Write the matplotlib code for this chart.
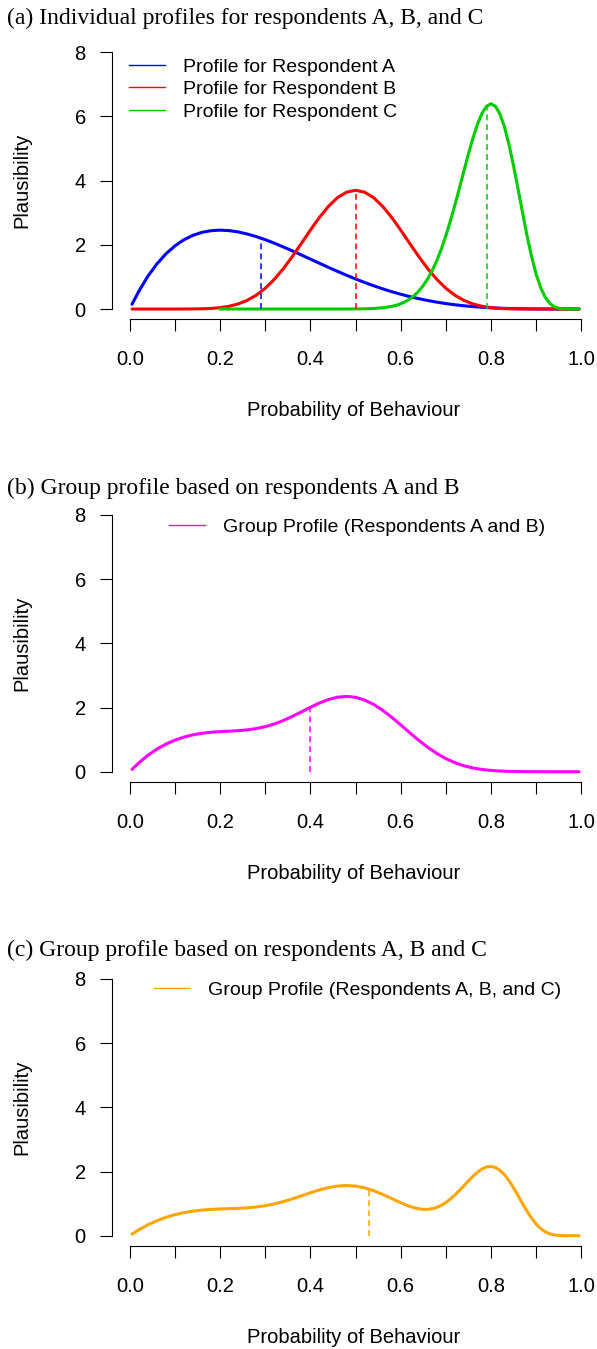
import matplotlib
matplotlib.use("Agg")
import matplotlib.pyplot as plt
from matplotlib.lines import Line2D

plt.rcParams['font.family'] = ['Liberation Sans', 'DejaVu Sans']

# ---------------- data ----------------
x_grid = [0.005, 0.02, 0.04, 0.06, 0.08, 0.10, 0.12, 0.14, 0.16, 0.18,
          0.20, 0.22, 0.24, 0.26, 0.28, 0.30, 0.32, 0.34, 0.36, 0.38,
          0.40, 0.42, 0.44, 0.46, 0.48, 0.50, 0.52, 0.54, 0.56, 0.58,
          0.60, 0.62, 0.64, 0.66, 0.68, 0.70, 0.72, 0.74, 0.76, 0.78,
          0.80, 0.82, 0.84, 0.86, 0.88, 0.90, 0.92, 0.94, 0.96, 0.98, 0.995]

profile_a = [0.147, 0.553, 1.019, 1.405, 1.719, 1.968, 2.159, 2.297, 2.390, 2.441,
             2.458, 2.443, 2.402, 2.339, 2.257, 2.161, 2.053, 1.935, 1.812, 1.684,
             1.555, 1.426, 1.298, 1.173, 1.053, 0.938, 0.828, 0.725, 0.630, 0.541,
             0.461, 0.388, 0.323, 0.265, 0.214, 0.170, 0.133, 0.101, 0.076, 0.055,
             0.038, 0.026, 0.017, 0.010, 0.006, 0.003, 0.001, 0.0, 0.0, 0.0, 0.0]

profile_b = [0.0, 0.0, 0.0, 0.0, 0.0, 0.0001, 0.001, 0.003, 0.008, 0.019,
             0.043, 0.086, 0.158, 0.270, 0.430, 0.647, 0.924, 1.256, 1.635, 2.044,
             2.460, 2.855, 3.200, 3.470, 3.641, 3.700, 3.641, 3.470, 3.200, 2.855,
             2.460, 2.044, 1.635, 1.256, 0.924, 0.647, 0.430, 0.270, 0.158, 0.086,
             0.043, 0.019, 0.008, 0.003, 0.001, 0.0001, 0.0, 0.0, 0.0, 0.0, 0.0]

group_ab = [0.074, 0.277, 0.510, 0.703, 0.860, 0.984, 1.080, 1.150, 1.199, 1.230,
            1.250, 1.264, 1.280, 1.304, 1.344, 1.404, 1.488, 1.596, 1.724, 1.864,
            2.008, 2.141, 2.249, 2.322, 2.347, 2.319, 2.235, 2.098, 1.915, 1.698,
            1.461, 1.216, 0.979, 0.761, 0.569, 0.409, 0.282, 0.185, 0.117, 0.070,
            0.041, 0.022, 0.012, 0.006, 0.003, 0.001, 0.001, 0.0, 0.0, 0.0, 0.0]

# finer grid where the sharp peak near 0.8 lives
x_fine = [0.005, 0.02, 0.04, 0.06, 0.08, 0.10, 0.12, 0.14, 0.16, 0.18,
          0.20, 0.22, 0.24, 0.26, 0.28, 0.30, 0.32, 0.34, 0.36, 0.38,
          0.40, 0.42, 0.44, 0.46, 0.48, 0.50, 0.52, 0.54, 0.56,
          0.57, 0.58, 0.59, 0.60, 0.61, 0.62, 0.63, 0.64, 0.65, 0.66,
          0.67, 0.68, 0.69, 0.70, 0.71, 0.72, 0.73, 0.74, 0.75, 0.76,
          0.77, 0.78, 0.79, 0.80, 0.81, 0.82, 0.83, 0.84, 0.85, 0.86,
          0.87, 0.88, 0.89, 0.90, 0.91, 0.92, 0.93, 0.94, 0.95, 0.96,
          0.97, 0.98, 0.995]

nan = float('nan')
profile_c = [nan, nan, nan, nan, nan, nan, nan, nan, nan, nan,
             0.0, 0.0, 0.0, 0.0, 0.0, 0.0, 0.0, 0.0, 0.0, 0.0,
             0.0, 0.0, 0.0001, 0.0004, 0.001, 0.003, 0.007, 0.017, 0.039,
             0.057, 0.082, 0.117, 0.165, 0.228, 0.312, 0.420, 0.558, 0.732, 0.946,
             1.206, 1.514, 1.874, 2.285, 2.743, 3.241, 3.767, 4.305, 4.833, 5.327,
             5.758, 6.098, 6.318, 6.395, 6.314, 6.067, 5.660, 5.113, 4.456, 3.730,
             2.985, 2.268, 1.623, 1.083, 0.664, 0.367, 0.178, 0.073, 0.024, 0.006,
             0.001, 0.0, 0.0]

group_abc = [0.049, 0.184, 0.340, 0.468, 0.573, 0.656, 0.720, 0.767, 0.799, 0.820,
             0.834, 0.843, 0.853, 0.870, 0.896, 0.936, 0.992, 1.064, 1.149, 1.243,
             1.338, 1.427, 1.499, 1.548, 1.565, 1.547, 1.492, 1.404, 1.290,
             1.226, 1.159, 1.093, 1.029, 0.968, 0.915, 0.871, 0.839, 0.822, 0.822,
             0.842, 0.884, 0.948, 1.034, 1.142, 1.268, 1.409, 1.559, 1.710, 1.854,
             1.980, 2.080, 2.142, 2.159, 2.125, 2.037, 1.898, 1.712, 1.491, 1.247,
             0.998, 0.758, 0.542, 0.362, 0.222, 0.123, 0.060, 0.025, 0.008, 0.002,
             0.0003, 0.0, 0.0]

# mean markers (x position, height of the dashed line)
mean_x_abc = [0.29, 0.50, 0.79]
mean_h_abc = [2.21, 3.70, 6.30]
mean_x_group_ab = [0.40]
mean_h_group_ab = [2.01]
mean_x_group_abc = [0.53]
mean_h_group_abc = [1.45]

x_major_ticks = [0.0, 0.2, 0.4, 0.6, 0.8, 1.0]
x_tick_labels = ["0.0", "0.2", "0.4", "0.6", "0.8", "1.0"]
x_minor_ticks = [0.1, 0.3, 0.5, 0.7, 0.9]
y_ticks = [0, 2, 4, 6, 8]
y_tick_labels = ["0", "2", "4", "6", "8"]

titles = ["(a) Individual profiles for respondents A, B, and C",
          "(b) Group profile based on respondents A and B",
          "(c) Group profile based on respondents A, B and C"]
legend_a = ["Profile for Respondent A", "Profile for Respondent B", "Profile for Respondent C"]
legend_b = ["Group Profile (Respondents A and B)"]
legend_c = ["Group Profile (Respondents A, B, and C)"]
xlabel = "Probability of Behaviour"
ylabel = "Plausibility"

# ---------------- layout ----------------
W, H = 597, 1349
fig = plt.figure(figsize=(W / 100, H / 100), dpi=100)

def px_axes(top, bottom, left=111.7, right=599.4):
    return fig.add_axes([left / W, 1 - bottom / H, (right - left) / W, (bottom - top) / H])

def fx(px):
    return px / W

def fy(py):
    return 1 - py / H

panels = [(42.0, 319.3), (504.7, 782.0), (968.7, 1246.0)]
title_y = [18, 488, 950]

def style(ax):
    ax.set_xlim(-0.04, 1.04)
    ax.set_ylim(-0.32, 8.32)
    for s in ["top", "right"]:
        ax.spines[s].set_visible(False)
    for s in ["left", "bottom"]:
        ax.spines[s].set_linewidth(0.8)
        ax.spines[s].set_color("black")
    ax.spines["left"].set_bounds(0, 8)
    ax.spines["bottom"].set_bounds(0, 1)
    ax.set_xticks(x_major_ticks)
    ax.set_xticklabels(x_tick_labels)
    ax.set_xticks(x_minor_ticks, minor=True)
    ax.set_yticks(y_ticks)
    ax.set_yticklabels(y_tick_labels)
    ax.tick_params(axis="both", which="both", direction="out", length=8.6,
                   width=0.8, color="black", labelsize=14.5)
    ax.tick_params(axis="x", pad=13.4)
    ax.tick_params(axis="y", pad=10)
    ax.patch.set_visible(False)

axes = [px_axes(t, b) for t, b in panels]
for ax, (t, b), ty, title in zip(axes, panels, title_y, titles):
    style(ax)
    fig.text(fx(7), fy(ty), title, family="Liberation Serif", fontsize=17,
             ha="left", va="center")
    y0 = b - 10.3
    y8 = t + 10.3
    fig.text(fx(22), fy((y0 + y8) / 2), ylabel, rotation=90, fontsize=14.5,
             ha="center", va="center")
    fig.text(fx(353.5), fy(b + 91.5), xlabel, fontsize=14.5, ha="center", va="center")

dash = (0, (3.9, 2.6))

# panel (a)
ax = axes[0]
colors_abc = ["#0000FF", "#FF0000", "#00CD00"]
ax.plot(x_grid, profile_a, color=colors_abc[0], lw=2.2, solid_capstyle="round", solid_joinstyle="round")
ax.plot(x_grid, profile_b, color=colors_abc[1], lw=2.2, solid_capstyle="round", solid_joinstyle="round")
ax.plot(x_fine, profile_c, color=colors_abc[2], lw=2.2, solid_capstyle="round", solid_joinstyle="round")
ax.vlines(mean_x_abc, 0, mean_h_abc, colors=colors_abc, lw=1.1, linestyles=dash)
handles = [Line2D([], [], color=c, lw=1.0) for c in colors_abc]
ax.legend(handles, legend_a, loc="upper left", bbox_to_anchor=(fx(129), fy(58.0)),
          bbox_transform=fig.transFigure, frameon=False, fontsize=14,
          handlelength=1.85, handletextpad=0.93, labelspacing=0.26,
          borderpad=0, borderaxespad=0)

# panel (b)
ax = axes[1]
ax.plot(x_grid, group_ab, color="#FF00FF", lw=2.2, solid_capstyle="round", solid_joinstyle="round")
ax.vlines(mean_x_group_ab, 0, mean_h_group_ab, colors="#FF00FF", lw=1.1, linestyles=dash)
ax.legend([Line2D([], [], color="#FF00FF", lw=1.0)], legend_b, loc="upper center",
          bbox_to_anchor=(fx(357.5), fy(518.5)), bbox_transform=fig.transFigure,
          frameon=False, fontsize=14, handlelength=1.85, handletextpad=0.93,
          borderpad=0, borderaxespad=0)

# panel (c)
ax = axes[2]
ax.plot(x_fine, group_abc, color="#FFA500", lw=2.2, solid_capstyle="round", solid_joinstyle="round")
ax.vlines(mean_x_group_abc, 0, mean_h_group_abc, colors="#FFA500", lw=1.1, linestyles=dash)
ax.legend([Line2D([], [], color="#FFA500", lw=1.0)], legend_c, loc="upper center",
          bbox_to_anchor=(fx(358), fy(981)), bbox_transform=fig.transFigure,
          frameon=False, fontsize=14, handlelength=1.85, handletextpad=0.93,
          borderpad=0, borderaxespad=0)

fig.savefig("out.png", dpi=100)
